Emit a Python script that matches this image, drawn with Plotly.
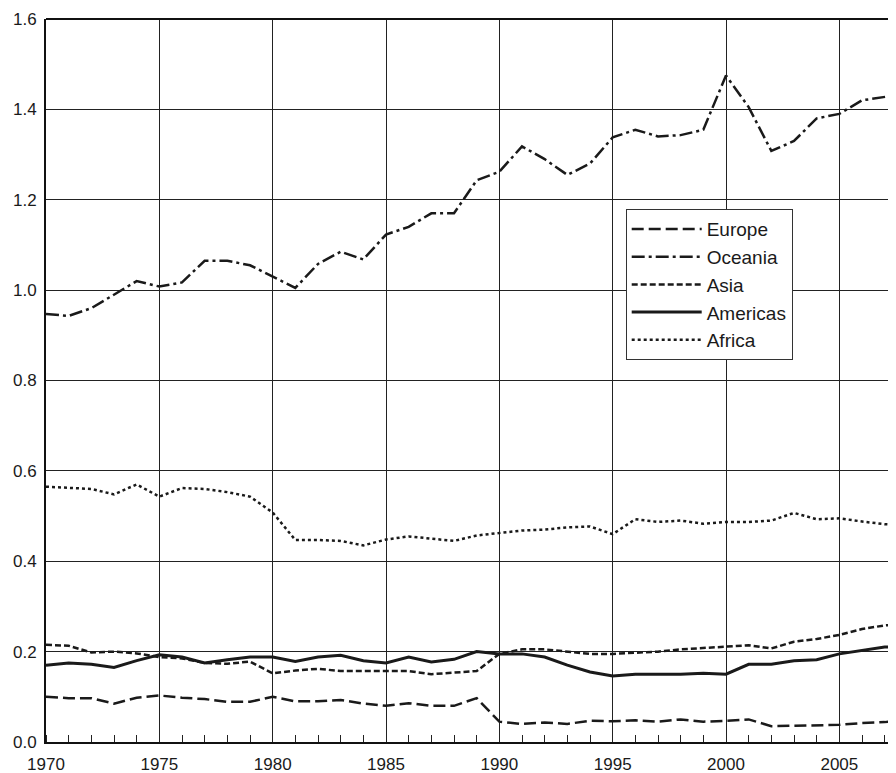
import plotly.graph_objects as go

years = list(range(1970, 2009))

europe = [0.100, 0.097, 0.097, 0.085, 0.098, 0.103, 0.098, 0.095, 0.089, 0.089,
          0.100, 0.090, 0.090, 0.093, 0.085, 0.080, 0.086, 0.080, 0.080, 0.097,
          0.045, 0.040, 0.043, 0.040, 0.047, 0.046, 0.048, 0.045, 0.050, 0.045,
          0.047, 0.050, 0.035, 0.036, 0.036, 0.038, 0.042, 0.044, 0.050]
oceania = [0.947, 0.943, 0.960, 0.990, 1.020, 1.008, 1.017, 1.065, 1.065, 1.055,
           1.030, 1.005, 1.058, 1.085, 1.068, 1.123, 1.140, 1.170, 1.170, 1.243,
           1.262, 1.318, 1.290, 1.255, 1.280, 1.338, 1.355, 1.340, 1.343, 1.355,
           1.475, 1.405, 1.308, 1.330, 1.380, 1.390, 1.420, 1.427, 1.435]
asia = [0.215, 0.213, 0.198, 0.200, 0.196, 0.188, 0.185, 0.175, 0.173, 0.178,
        0.152, 0.158, 0.162, 0.157, 0.157, 0.157, 0.157, 0.150, 0.153, 0.157,
        0.195, 0.205, 0.205, 0.200, 0.195, 0.195, 0.198, 0.200, 0.205, 0.208,
        0.212, 0.214, 0.207, 0.222, 0.228, 0.237, 0.250, 0.258, 0.262]
americas = [0.170, 0.175, 0.172, 0.165, 0.180, 0.193, 0.188, 0.175, 0.182, 0.188,
            0.188, 0.178, 0.188, 0.192, 0.180, 0.175, 0.188, 0.177, 0.183, 0.200,
            0.195, 0.195, 0.188, 0.170, 0.155, 0.146, 0.150, 0.150, 0.150, 0.152,
            0.150, 0.172, 0.172, 0.180, 0.182, 0.195, 0.203, 0.210, 0.210]
africa = [0.565, 0.563, 0.560, 0.548, 0.570, 0.543, 0.562, 0.560, 0.553, 0.543,
          0.508, 0.447, 0.447, 0.445, 0.435, 0.448, 0.455, 0.450, 0.445, 0.457,
          0.462, 0.468, 0.470, 0.475, 0.477, 0.460, 0.493, 0.487, 0.490, 0.483,
          0.487, 0.487, 0.490, 0.507, 0.493, 0.495, 0.488, 0.482, 0.480]

series = [
    ("Europe", europe, "12px,5px", 2.5),
    ("Oceania", oceania, "13px,4px,3px,4px", 2.5),
    ("Asia", asia, "6px,3px", 2.5),
    ("Americas", americas, "solid", 3),
    ("Africa", africa, "3px,3px", 2.5),
]

fig = go.Figure()
for name, vals, dash, w in series:
    fig.add_trace(go.Scatter(x=years, y=vals, mode="lines", name=name,
                             line=dict(color="#1a1a1a", width=w, dash=dash)))

# page body adds 8px, so the figure is sized to fill the window exactly
fig.update_layout(
    width=888, height=765,
    margin=dict(l=38, r=0, t=11, b=31),
    paper_bgcolor="white", plot_bgcolor="white",
    font=dict(family="Liberation Sans, Arial", size=17, color="#1a1a1a"),
    legend=dict(x=0.682, y=0.737, xanchor="left", yanchor="top",
                bordercolor="#333", borderwidth=1, bgcolor="white",
                font=dict(size=19), itemwidth=70),
    showlegend=True,
)
fig.update_xaxes(range=[1970, 2007.5], tickvals=list(range(1970, 2010, 5)),
                 showgrid=True, gridcolor="#222", gridwidth=1,
                 showline=True, linecolor="#111", linewidth=2, zeroline=False,
                 ticks="", ticklabelstandoff=6,
                 minor=dict(dtick=1, ticks="inside", ticklen=7,
                            tickcolor="#222", showgrid=False))
fig.update_yaxes(range=[0, 1.6], dtick=0.2, tickformat=".1f",
                 showgrid=True, gridcolor="#222", gridwidth=1,
                 showline=True, linecolor="#111", linewidth=2, zeroline=False,
                 ticks="", ticklabelstandoff=4)
fig.add_shape(type="line", xref="paper", yref="paper", x0=0, x1=1, y0=1, y1=1,
              line=dict(color="#111", width=2))

fig.write_html("out.html")
